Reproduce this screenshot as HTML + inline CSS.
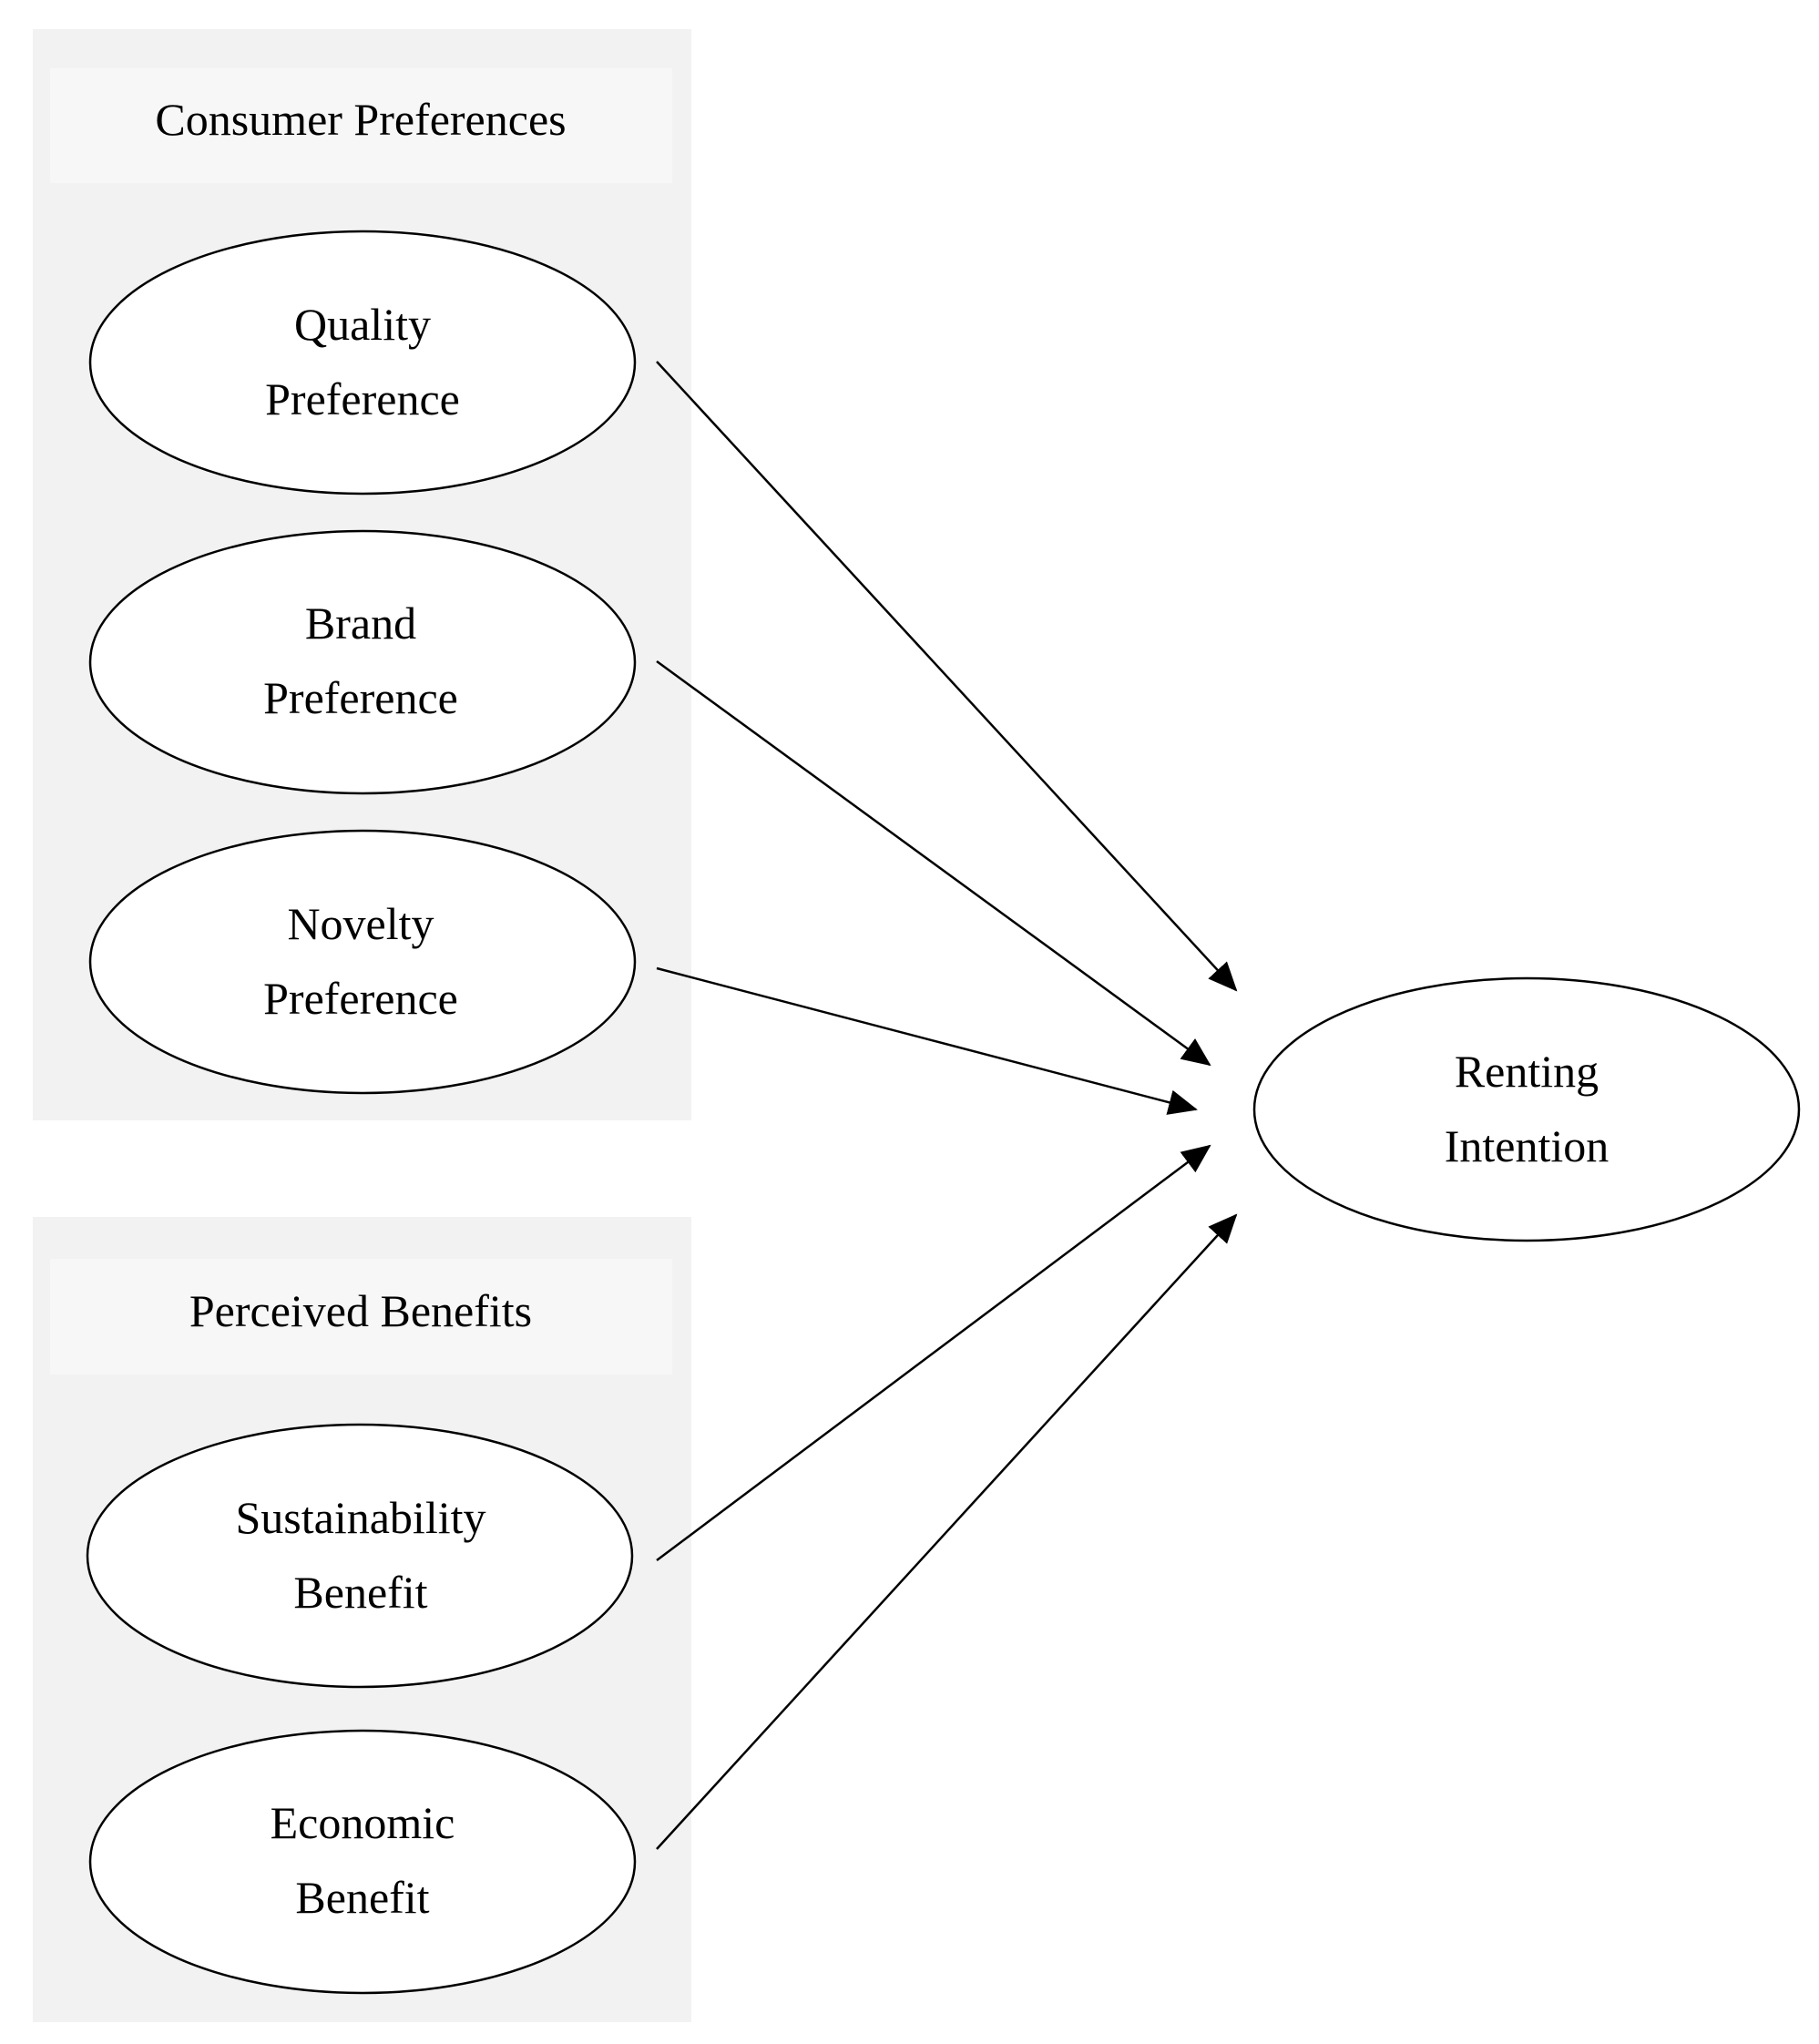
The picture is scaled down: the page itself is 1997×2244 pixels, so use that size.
<!DOCTYPE html>
<html><head><meta charset="utf-8"><style>
html,body{margin:0;padding:0;background:#fff;}
svg{display:block;}
text{font-family:"Liberation Serif",serif;font-size:50px;fill:#000;text-anchor:middle;}
</style></head><body>
<svg width="1997" height="2244" viewBox="0 0 1997 2244" xmlns="http://www.w3.org/2000/svg">
<defs><marker id="a" markerWidth="32" markerHeight="28" refX="30" refY="14" orient="auto" markerUnits="userSpaceOnUse"><path d="M0,0 L32,14 L0,28 z" fill="#000"/></marker></defs>
<rect x="36" y="32" width="723" height="1198" fill="#f2f2f2"/>
<rect x="55" y="75" width="683" height="126" fill="#f7f7f7"/>
<text x="396" y="148">Consumer Preferences</text>
<rect x="36" y="1336" width="723" height="884" fill="#f2f2f2"/>
<rect x="55" y="1382" width="683" height="127" fill="#f7f7f7"/>
<text x="396" y="1456">Perceived Benefits</text>
<g fill="#fff" stroke="#000" stroke-width="2.5">
<ellipse cx="398" cy="398" rx="299" ry="144"/>
<ellipse cx="398" cy="727" rx="299" ry="144"/>
<ellipse cx="398" cy="1056" rx="299" ry="144"/>
<ellipse cx="395" cy="1708" rx="299" ry="144"/>
<ellipse cx="398" cy="2044" rx="299" ry="144"/>
<ellipse cx="1676" cy="1218" rx="299" ry="144"/>
</g>
<text x="398" y="373">Quality</text><text x="398" y="455">Preference</text>
<text x="396" y="701">Brand</text><text x="396" y="783">Preference</text>
<text x="396" y="1031">Novelty</text><text x="396" y="1113">Preference</text>
<text x="396" y="1683">Sustainability</text><text x="396" y="1765">Benefit</text>
<text x="398" y="2018">Economic</text><text x="398" y="2100">Benefit</text>
<text x="1676" y="1193">Renting</text><text x="1676" y="1275">Intention</text>
<g stroke="#000" stroke-width="2.5" marker-end="url(#a)">
<line x1="721" y1="397" x2="1357" y2="1087"/>
<line x1="721" y1="726" x2="1328" y2="1169"/>
<line x1="721" y1="1063" x2="1313" y2="1218"/>
<line x1="721" y1="1713" x2="1328" y2="1258"/>
<line x1="721" y1="2030" x2="1357" y2="1334"/>
</g>
</svg>
</body></html>
